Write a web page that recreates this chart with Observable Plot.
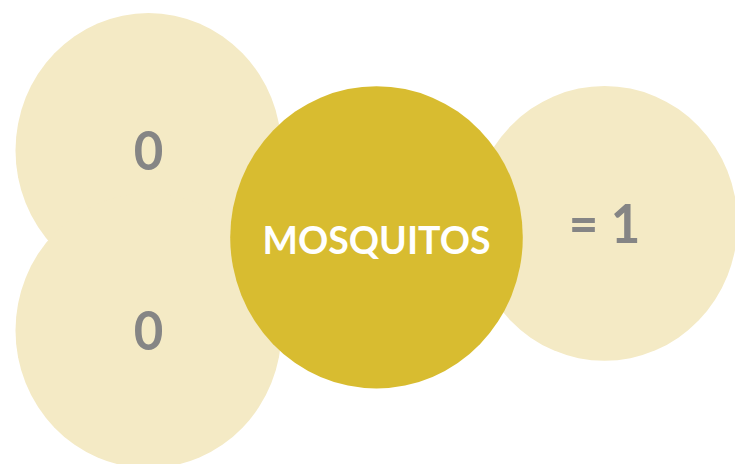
<!DOCTYPE html>
<html>
<head>
<meta charset="utf-8">
<script src="https://cdn.jsdelivr.net/npm/d3@7"></script>
<script src="https://cdn.jsdelivr.net/npm/@observablehq/plot@0.6"></script>
<style>
  html, body { margin: 0; padding: 0; background: #ffffff; }
  #chart svg { display: block; }
</style>
</head>
<body>
<div id="chart"></div>
<script>
// Data
const labels = ["0", "0", "= 1", "MOSQUITOS"];
const kinds = ["value", "value", "value", "subject"];
const sizes = [1, 1, 1, 1.1];
// Layout in abstract grid units (columns / rows)
const cols = [0, 0, 2, 1];
const rows = [-1, 1, -0.19, -0.035];

const data = labels.map((label, i) => ({
  label, kind: kinds[i], size: sizes[i], col: cols[i], row: rows[i]
}));
const values = data.filter(d => d.kind === "value");
const subject = data.filter(d => d.kind === "subject");

const W = 735, H = 449, OUT_H = 464;

const plot = Plot.plot({
  width: W,
  height: H,
  margin: 0,
  x: {domain: [0, 2], range: [148, 604], axis: null},
  y: {domain: [-1, 1], range: [145.1, 319.3], axis: null},
  r: {type: "linear", domain: [0, 1], range: [0, 133]},
  style: {background: "transparent", overflow: "hidden"},
  marks: [
    Plot.dot(values, {
      x: "col", y: "row", r: "size", sort: null,
      fill: "#F4EAC5", stroke: "none"
    }),
    Plot.dot(subject, {
      x: "col", y: "row", r: "size", sort: null,
      fill: "#D8BC30", stroke: "none"
    }),
    Plot.text(values, {
      x: "col", y: "row", text: "label", dy: 2.5,
      fill: "#858585", fontSize: 51, fontWeight: 700,
      fontFamily: "Lato"
    }),
    Plot.text(subject, {
      x: "col", y: "row", text: "label", dy: 4.5,
      fill: "#ffffff", fontSize: 37.5, fontWeight: 700,
      fontFamily: "Lato"
    })
  ]
});
plot.setAttribute("preserveAspectRatio", "none");
plot.style.width = W + "px";
plot.style.height = OUT_H + "px";
plot.style.maxWidth = "none";
document.getElementById("chart").appendChild(plot);
</script>
</body>
</html>
